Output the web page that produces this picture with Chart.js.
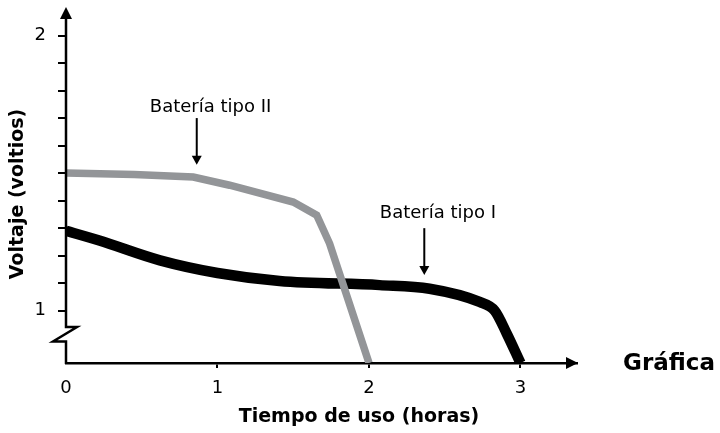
<!DOCTYPE html>
<html>
<head>
<meta charset="utf-8">
<script src="https://cdn.jsdelivr.net/npm/chart.js@4/dist/chart.umd.min.js"></script>
<style>
  html, body { margin: 0; padding: 0; background: #fff; }
  #wrap { width: 720px; height: 433px; position: relative; }
</style>
</head>
<body>
<div id="wrap"><canvas id="chart"></canvas></div>
<script>
const FONT = "'DejaVu Sans', Verdana, sans-serif";

// Batería tipo II (gris)
const tipo2Horas = [0, 0.45, 0.84, 1.08, 1.5, 1.655, 1.74, 2.0];
const tipo2Voltios = [1.5, 1.495, 1.486, 1.456, 1.395, 1.347, 1.244, 0.81];

// Batería tipo I (negra)
const tipo1Horas = [0, 0.22, 0.62, 1.0, 1.41, 2.07, 2.4, 2.73, 2.83, 2.91, 3.0];
const tipo1Voltios = [1.29, 1.255, 1.183, 1.137, 1.108, 1.093, 1.08, 1.032, 1.0, 0.916, 0.81];

// ejes
const xTickValues = [0, 1, 2, 3];
const yTickValues = [1, 1.1, 1.2, 1.3, 1.4, 1.5, 1.6, 1.7, 1.8, 1.9, 2];
const yTickLabeled = [1, 2];

// rótulos con flecha (en unidades de datos)
const notas = [
  { texto: "Batería tipo II", x: 0.954, y: 1.74, flechaX: 0.863, desde: 1.70, hasta: 1.53 },
  { texto: "Batería tipo I", x: 2.455, y: 1.354, flechaX: 2.365, desde: 1.30, hasta: 1.13 },
];

function toPoints(xs, ys) {
  return xs.map((x, i) => ({ x: x, y: ys[i] }));
}

const decor = {
  id: "decor",
  afterDraw(chart) {
    const { ctx, chartArea: a, scales } = chart;
    const xs = scales.x, ys = scales.y;
    const L = a.left, B = a.bottom;
    ctx.save();
    ctx.strokeStyle = "#000";
    ctx.fillStyle = "#000";
    ctx.lineWidth = 2.5;
    ctx.lineJoin = "miter";

    // eje Y con corte
    ctx.beginPath();
    ctx.moveTo(L, a.top + 8);
    ctx.lineTo(L, B - 36);
    ctx.lineTo(L + 11, B - 36);
    ctx.lineTo(L - 13, B - 21.5);
    ctx.lineTo(L, B - 21.5);
    ctx.lineTo(L, B + 1);
    ctx.stroke();

    // puntas de flecha de los ejes
    ctx.beginPath();
    ctx.moveTo(L, a.top - 1);
    ctx.lineTo(L - 6, a.top + 11);
    ctx.lineTo(L + 6, a.top + 11);
    ctx.closePath();
    ctx.fill();
    ctx.beginPath();
    ctx.moveTo(a.right + 1, B);
    ctx.lineTo(a.right - 11, B - 6);
    ctx.lineTo(a.right - 11, B + 6);
    ctx.closePath();
    ctx.fill();

    // rótulos de las series
    ctx.lineWidth = 2;
    ctx.font = "18px " + FONT;
    ctx.textAlign = "center";
    ctx.textBaseline = "middle";
    notas.forEach((n) => {
      ctx.fillText(n.texto, xs.getPixelForValue(n.x), ys.getPixelForValue(n.y));
      const fx = xs.getPixelForValue(n.flechaX);
      const y0 = ys.getPixelForValue(n.desde);
      const y1 = ys.getPixelForValue(n.hasta);
      ctx.beginPath();
      ctx.moveTo(fx, y0);
      ctx.lineTo(fx, y1 - 6);
      ctx.stroke();
      ctx.beginPath();
      ctx.moveTo(fx, y1);
      ctx.lineTo(fx - 5, y1 - 9);
      ctx.lineTo(fx + 5, y1 - 9);
      ctx.closePath();
      ctx.fill();
    });

    // títulos
    ctx.font = "bold 19px " + FONT;
    ctx.fillText("Tiempo de uso (horas)", 359, 417);
    ctx.save();
    ctx.translate(18, 194);
    ctx.rotate(-Math.PI / 2);
    ctx.fillText("Voltaje (voltios)", 0, 0);
    ctx.restore();
    ctx.font = "bold 23px " + FONT;
    ctx.textAlign = "left";
    ctx.fillText("Gráfica", 623, 364);
    ctx.restore();
  },
};

new Chart(document.getElementById("chart"), {
  type: "line",
  data: {
    datasets: [
      {
        label: "Batería tipo II",
        data: toPoints(tipo2Horas, tipo2Voltios),
        borderColor: "#939598",
        borderWidth: 7.5,
        pointRadius: 0,
        tension: 0,
        clip: 0,
      },
      {
        label: "Batería tipo I",
        data: toPoints(tipo1Horas, tipo1Voltios),
        borderColor: "#000000",
        borderWidth: 10.5,
        pointRadius: 0,
        cubicInterpolationMode: "monotone",
        clip: 0,
      },
    ],
  },
  options: {
    responsive: true,
    maintainAspectRatio: false,
    animation: false,
    events: [],
    layout: { padding: { top: 8, right: 143, left: 0, bottom: 0 } },
    plugins: {
      legend: { display: false },
      tooltip: { enabled: false },
    },
    scales: {
      x: {
        type: "linear",
        min: 0,
        max: 3.373,
        afterBuildTicks: (s) => { s.ticks = xTickValues.map((v) => ({ value: v })); },
        afterFit: (s) => { s.height = 70; s.paddingLeft = 0; s.paddingRight = 0; },
        border: { display: true, color: "#000", width: 2.5 },
        grid: {
          drawOnChartArea: false,
          drawTicks: true,
          tickLength: 5,
          lineWidth: 2,
          color: (c) => (c.tick && c.tick.value === 0 ? "rgba(0,0,0,0)" : "#000"),
        },
        ticks: {
          color: "#000",
          font: { family: FONT, size: 18 },
          padding: 10,
          maxRotation: 0,
          autoSkip: false,
        },
      },
      y: {
        type: "linear",
        min: 0.81,
        max: 2.1,
        afterBuildTicks: (s) => { s.ticks = yTickValues.map((v) => ({ value: v })); },
        afterFit: (s) => { s.width = 66; s.paddingTop = 0; s.paddingBottom = 0; },
        border: { display: false },
        grid: {
          drawOnChartArea: false,
          drawTicks: true,
          tickLength: 8,
          lineWidth: 2,
          color: "#000",
        },
        ticks: {
          color: "#000",
          font: { family: FONT, size: 18 },
          padding: 12,
          autoSkip: false,
          callback: (v) => (yTickLabeled.includes(v) ? String(v) : ""),
        },
      },
    },
  },
  plugins: [decor],
});
</script>
</body>
</html>
